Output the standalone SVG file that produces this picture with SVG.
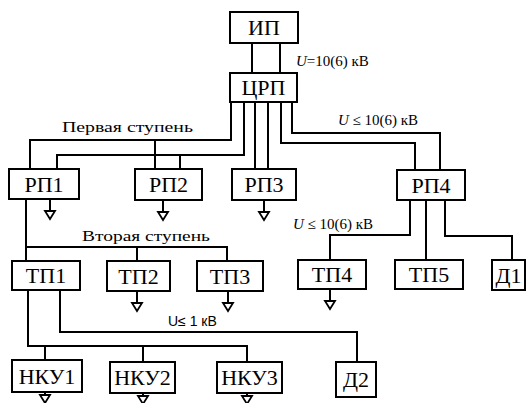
<svg xmlns="http://www.w3.org/2000/svg" xmlns:xlink="http://www.w3.org/1999/xlink" width="528" height="403" viewBox="0 0 528 403">
<style>
.box{fill:#fff;stroke:#000;stroke-width:2}
.nt{font-family:"Liberation Serif","Times New Roman","DejaVu Serif",serif;font-size:22px;text-anchor:middle;fill:#000}
.lb{font-family:"Liberation Serif","Times New Roman","DejaVu Serif",serif;font-size:15px;fill:#000}
.ls{font-family:"Liberation Sans","DejaVu Sans",sans-serif;font-size:14px;fill:#000}
.w{fill:none;stroke:#000;stroke-width:2}
</style>
<defs>
<g id="gnd"><path d="M0,0 V12" stroke="#000" stroke-width="2"/><polygon points="-5,12 5,12 0,20" fill="#fff" stroke="#000" stroke-width="1.8"/></g>
<g id="gnds"><path d="M0,0 V3" stroke="#000" stroke-width="2"/><polygon points="-5,3 5,3 0,11" fill="#fff" stroke="#000" stroke-width="1.8"/></g>
</defs>
<rect width="528" height="403" fill="#fff"/>
<g id="connectors" class="w">
<path d="M252,43 V73 M280,43 V73"/>
<path d="M231,102 V140 H30 V169 M155,140 V169"/>
<path d="M244,102 V155 H57 V169 M180,155 V169"/>
<path d="M255,102 V169 M268,102 V169"/>
<path d="M281,102 V143 H415 V170 M292,102 V133 H440 V170"/>
<path d="M410,200 V235 H330 V260 M426,200 V260 M445,200 V236 H512 V260"/>
<path d="M26,199 V261 M26,247 H227 V261 M137,247 V261"/>
<path d="M28,290 V346 H247 V362 M45,346 V360 M143,346 V362"/>
<path d="M60,290 V332 H357 V362"/>
</g>
<g id="grounds">
<use xlink:href="#gnd" x="50" y="199"/>
<use xlink:href="#gnd" x="163" y="200"/>
<use xlink:href="#gnd" x="264" y="200"/>
<use xlink:href="#gnd" x="137" y="291"/>
<use xlink:href="#gnd" x="228" y="291"/>
<use xlink:href="#gnd" x="330" y="289"/>
<use xlink:href="#gnds" x="45" y="392"/>
<use xlink:href="#gnds" x="143" y="393"/>
<use xlink:href="#gnds" x="247" y="393"/>
</g>
<g id="IP"><rect class="box" x="230" y="12" width="68" height="31"/><text class="nt" x="264" y="35">ИП</text></g>
<g id="CRP"><rect class="box" x="230" y="73" width="67" height="29"/><text class="nt" x="263.5" y="95">ЦРП</text></g>
<g id="RP1"><rect class="box" x="9" y="169" width="70" height="30"/><text class="nt" x="44" y="192">РП1</text></g>
<g id="RP2"><rect class="box" x="135" y="169" width="67" height="31"/><text class="nt" x="168.5" y="192">РП2</text></g>
<g id="RP3"><rect class="box" x="232" y="169" width="64" height="31"/><text class="nt" x="264" y="192">РП3</text></g>
<g id="RP4"><rect class="box" x="397" y="170" width="68" height="30"/><text class="nt" x="431" y="193">РП4</text></g>
<g id="TP1"><rect class="box" x="12" y="261" width="68" height="29"/><text class="nt" x="46" y="283">ТП1</text></g>
<g id="TP2"><rect class="box" x="107" y="261" width="63" height="30"/><text class="nt" x="138.5" y="284">ТП2</text></g>
<g id="TP3"><rect class="box" x="197" y="261" width="66" height="30"/><text class="nt" x="230" y="284">ТП3</text></g>
<g id="TP4"><rect class="box" x="298" y="260" width="68" height="29"/><text class="nt" x="332" y="282">ТП4</text></g>
<g id="TP5"><rect class="box" x="395" y="260" width="68" height="29"/><text class="nt" x="429" y="282">ТП5</text></g>
<g id="D1"><rect class="box" x="492" y="260" width="33" height="30"/><text class="nt" x="508.5" y="283">Д1</text></g>
<g id="NKU1"><rect class="box" x="12" y="360" width="70" height="32"/><text class="nt" x="47" y="384">НКУ1</text></g>
<g id="NKU2"><rect class="box" x="110" y="362" width="65" height="31"/><text class="nt" x="142.5" y="385">НКУ2</text></g>
<g id="NKU3"><rect class="box" x="217" y="362" width="65" height="31"/><text class="nt" x="249.5" y="385">НКУ3</text></g>
<g id="D2"><rect class="box" x="336" y="362" width="40" height="35"/><text class="nt" x="356" y="387">Д2</text></g>
<g id="labels">
<text class="lb" x="296" y="66"><tspan font-style="italic">U</tspan>=10(6) кВ</text>
<text class="lb" x="62" y="132" textLength="131" lengthAdjust="spacingAndGlyphs">Первая ступень</text>
<text class="lb" x="338" y="125"><tspan font-style="italic">U</tspan> ≤ 10(6) кВ</text>
<text class="lb" x="293" y="229"><tspan font-style="italic">U</tspan> ≤ 10(6) кВ</text>
<text class="lb" x="82" y="241" textLength="128" lengthAdjust="spacingAndGlyphs">Вторая ступень</text>
<text class="ls" x="168" y="326">U≤ 1 кВ</text>
</g>
</svg>
